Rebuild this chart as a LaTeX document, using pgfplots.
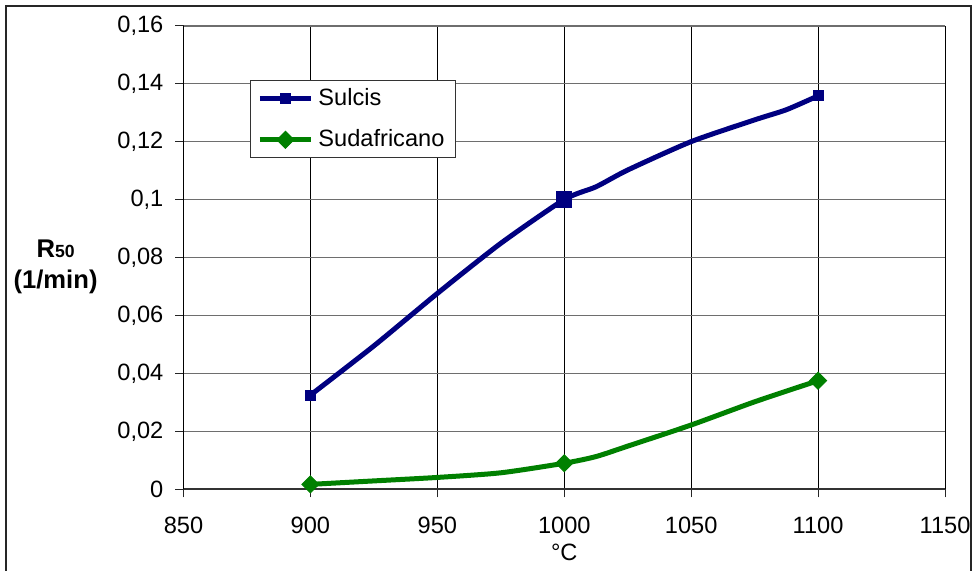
\documentclass[border=0pt]{standalone}
\usepackage{pgfplots}
\pgfplotsset{compat=1.18}
\usepackage{fontspec}
\setmainfont{Liberation Sans}
\definecolor{sulcis}{RGB}{0,0,128}
\definecolor{suda}{RGB}{0,128,0}
\definecolor{gridgray}{RGB}{110,110,110}
\begin{document}
\fontsize{11.6}{14}\selectfont
\begin{tikzpicture}
\path[use as bounding box] (0,0) rectangle (489pt,285pt);
\draw[line width=1pt, black!85] (3pt,-10pt) rectangle (485.5pt,282pt);
\begin{axis}[
  at={(91.75pt,40.35pt)}, anchor=south west,
  scale only axis, width=380.75pt, height=231.8pt,
  xmin=850, xmax=1150, ymin=0, ymax=0.16,
  xtick={850,900,950,1000,1050,1100,1150},
  ytick={0,0.02,0.04,0.06,0.08,0.1,0.12,0.14,0.16},
  axis x line=bottom, axis y line=left,
  axis line style={-},
  x axis line style={line width=1pt, black!80},
  y axis line style={line width=0.6pt, black},
  tick align=outside, major tick length=4pt,
  tick style={black!85, line width=0.5pt},
  grid=major,
  x grid style={black, line width=0.5pt},
  y grid style={gridgray, line width=0.8pt},
  /pgf/number format/assume math mode=true,
  ticklabel style={font=\fontsize{11.8}{14}\selectfont},
  yticklabel style={/pgf/number format/fixed, /pgf/number format/use comma, /pgf/number format/precision=2, xshift=-2pt},
  xticklabel style={/pgf/number format/1000 sep={}, yshift=-6pt},
  xlabel={°C},
  xlabel style={at={(axis description cs:0.5,0)}, anchor=center, yshift=-31.4pt, font=\fontsize{11.8}{14}\selectfont},
  ylabel={\textbf{R\fontsize{8.8}{10}\selectfont 50}\\\textbf{(1/min)}},
  ylabel style={rotate=-90, at={(axis description cs:-0.168,0.4795)}, anchor=center, align=center, font=\fontsize{12.8}{15.5}\selectfont},
  legend style={at={(0.0873,0.883)}, anchor=north west, draw=black!80, line width=0.5pt, fill=white,
    inner xsep=3.5pt, inner ysep=2.75pt, row sep=8.5pt,
    nodes={inner xsep=2.5pt, inner ysep=1pt, text width=62.5pt, font=\fontsize{11.8}{14}\selectfont}},
  legend cell align=left,
  legend image code/.code={\draw[#1, mark indices={2}] plot coordinates {(0pt,0pt) (12.75pt,0pt) (25.5pt,0pt)};},
]
\addplot[sulcis, line width=2.5pt, smooth, tension=0.4, mark=square*, mark size=2.5pt,
  mark options={solid, line width=0.5pt}, mark indices={1,11}] coordinates {
  (900,0.0325) (925,0.0495) (950,0.0676) (975,0.0849) (1000,0.1) (1012.5,0.1044)
  (1025,0.1102) (1050,0.12) (1075,0.1275) (1087.5,0.131) (1100,0.1358)};
\addlegendentry{Sulcis}
\addplot[suda, line width=2.5pt, smooth, tension=0.4, mark=square*, mark size=3pt,
  mark options={solid, line width=0.5pt, rotate=45}, mark indices={1,5,10}] coordinates {
  (900,0.0017) (925,0.0029) (950,0.0041) (975,0.0057) (1000,0.009) (1012.5,0.0113)
  (1025,0.0149) (1050,0.0222) (1075,0.0302) (1100,0.0375)};
\addlegendentry{Sudafricano}
\addplot[sulcis, only marks, mark=square*, mark size=3.8pt, mark options={line width=0.5pt}, forget plot]
  coordinates {(1000,0.1)};
\end{axis}
\end{tikzpicture}
\end{document}
